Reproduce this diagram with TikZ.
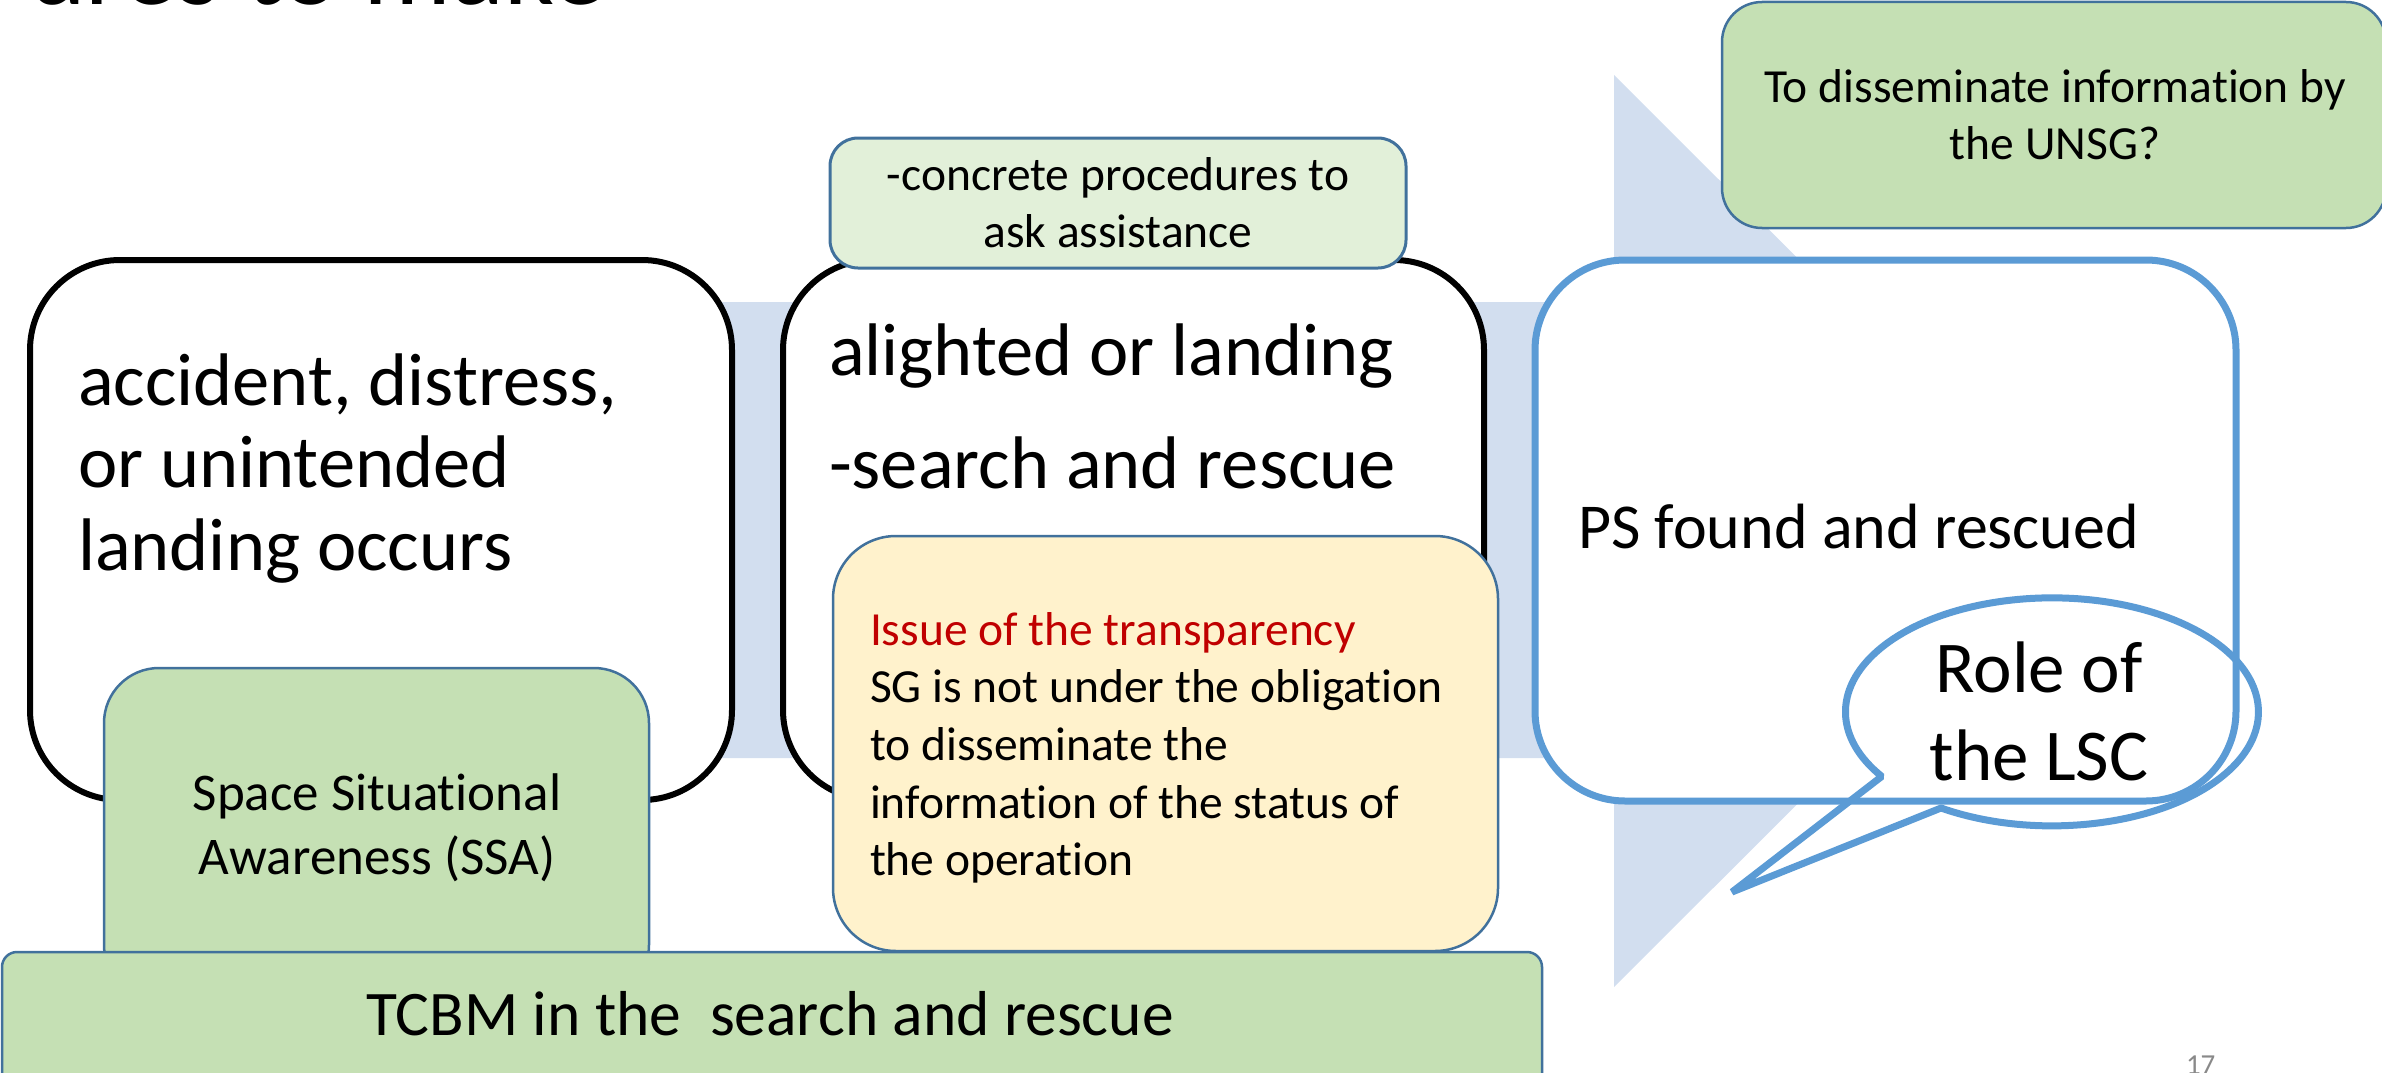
\documentclass[tikz,border=0pt]{standalone}
\usepackage{fontspec}
\setmainfont{Carlito}[Ligatures=NoCommon]
\definecolor{arrowblue}{HTML}{D2DEEF}
\definecolor{boxgreen}{HTML}{C5E0B4}
\definecolor{palegreen}{HTML}{E2F0D9}
\definecolor{paleyellow}{HTML}{FFF2CC}
\definecolor{edgeblue}{HTML}{41719C}
\definecolor{accblue}{HTML}{5B9BD5}
\definecolor{issuered}{HTML}{C00000}
\definecolor{pagegray}{HTML}{898989}
\newcommand{\firstline}{\rule{0pt}{1em}}
\tikzset{
  stagebox/.style={draw=black, fill=white, line width=6pt, rounded corners=90pt},
  notebox/.style={draw=edgeblue, line width=2.5pt},
  txt/.style={inner sep=0pt, outer sep=0pt, text=black}
}
\begin{document}
\begin{tikzpicture}[x=1pt,y=-1pt]
\clip (0,0) rectangle (2382,1073);
% big process arrow
\fill[arrowblue] (60,302) -- (1614,302) -- (1614,75) -- (2071,531) -- (1614,987) -- (1614,758) -- (60,758) -- cycle;
% stage boxes
\draw[stagebox] (30,260) rectangle (732,800);
\draw[stagebox] (783,260) rectangle (1484,800);
\draw[stagebox, draw=accblue, line width=7pt] (1535,260) rectangle (2236,801);
% note boxes
\draw[notebox, fill=boxgreen, rounded corners=40pt] (1722,2) rectangle (2386,228);
\draw[notebox, fill=palegreen, line width=3pt, rounded corners=28pt] (830,138) rectangle (1406,268);
\draw[notebox, fill=boxgreen, rounded corners=55pt] (104,668) rectangle (649,1000);
\draw[notebox, fill=paleyellow, rounded corners=63pt] (833,536) rectangle (1498,951);
\draw[notebox, fill=boxgreen, rounded corners=15pt] (2,952) rectangle (1542,1120);
% callout
\draw[accblue, line width=7pt, line join=bevel] (1941,808) arc[start angle=237.5, end angle=574.5, x radius=206.5pt, y radius=114pt] -- (1732,892) -- cycle;
% texts
\node[txt, anchor=base west, font=\fontsize{110}{130}\selectfont] (title) at (28,5) {ures to make};
\node[txt, anchor=north west, align=left, font=\fontsize{74.5}{82.5}\selectfont] (t1) at (78,330.5) {\firstline accident, distress,\\or unintended\\landing occurs};
\node[txt, anchor=north west, align=left, font=\fontsize{74.5}{113}\selectfont] (t2) at (829,300.5) {\firstline alighted or landing\\-search and rescue};
\node[txt, anchor=north west, align=left, font=\fontsize{64}{76}\selectfont] (t3) at (1578,484) {\firstline PS found and rescued};
\node[txt, anchor=north, align=center, font=\fontsize{47.5}{57}\selectfont] (tproc) at (1118,142.5) {\firstline -concrete procedures to\\ask assistance};
\node[txt, anchor=north, align=center, font=\fontsize{47.5}{57}\selectfont] (tunsg) at (2055,54.5) {\firstline To disseminate information by\\the UNSG?};
\node[txt, anchor=north, align=center, font=\fontsize{53}{64}\selectfont] (tssa) at (377,757) {\firstline Space Situational\\Awareness (SSA)};
\node[txt, anchor=north west, align=left, font=\fontsize{47.5}{57.7}\selectfont] (tissue) at (870,597.5) {\firstline\textcolor{issuered}{Issue of the transparency}\\SG is not under the obligation\\to disseminate the\\information of the status of\\the operation};
\node[txt, anchor=north, align=center, font=\fontsize{63.5}{76}\selectfont] (ttcbm) at (770,971.5) {\firstline TCBM in the\ \ search and rescue};
\node[txt, anchor=north, align=center, font=\fontsize{73}{88}\selectfont] (tlsc) at (2039,619) {\firstline Role of\\the LSC};
\node[txt, anchor=base west, text=pagegray, font=\fontsize{29}{35}\selectfont] (page) at (2186,1074) {17};
\end{tikzpicture}
\end{document}
